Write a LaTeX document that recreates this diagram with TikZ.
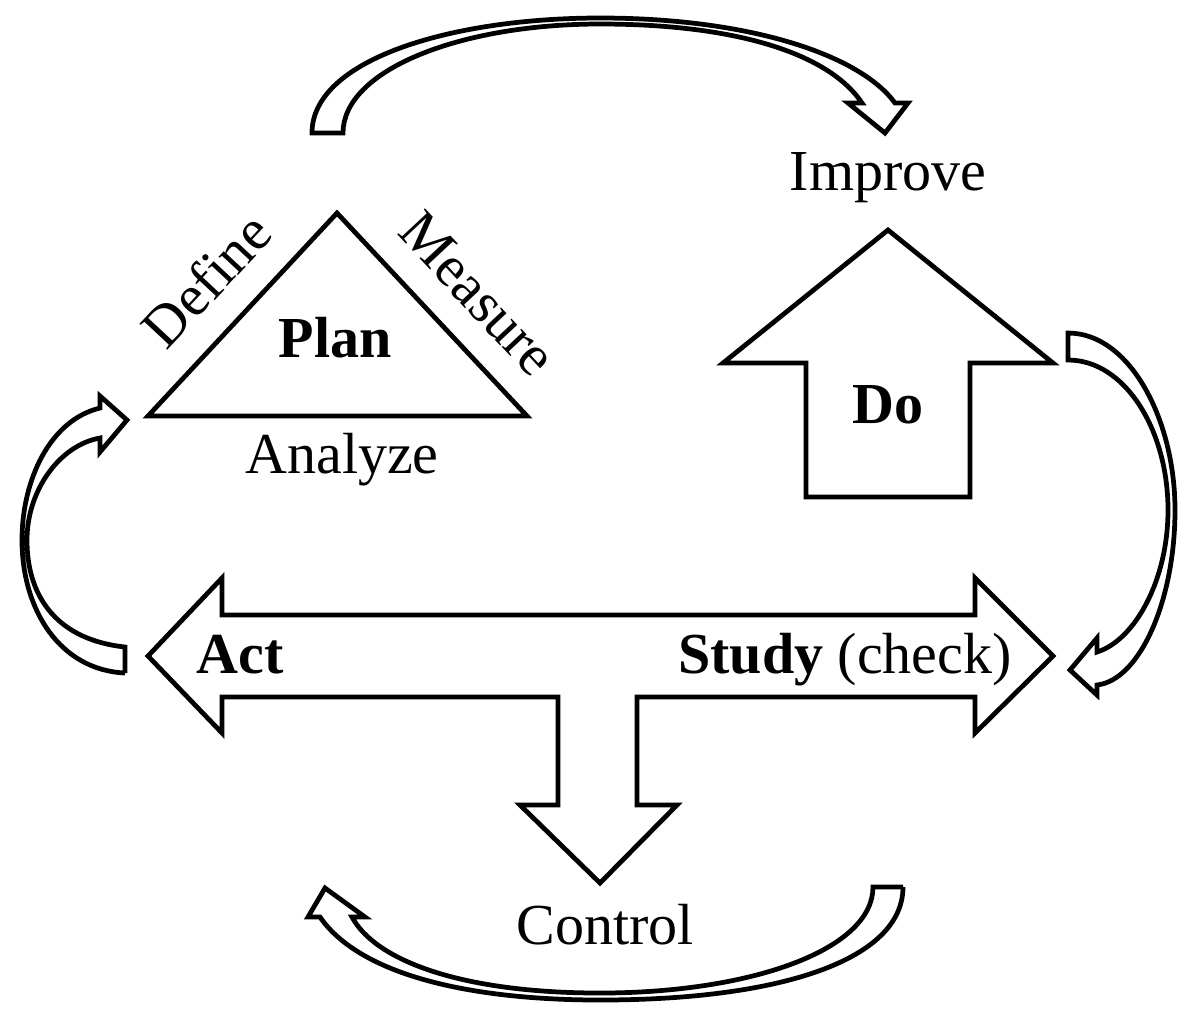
\documentclass[tikz,border=0pt]{standalone}
\usepackage{fontspec}
\setmainfont{Liberation Serif}
\usetikzlibrary{positioning}
\tikzstyle{outline}=[draw, line width=1.35pt, line join=miter, fill=white]
\tikzstyle{word}=[inner sep=0pt, font=\fontsize{16.5}{18}\selectfont]
\tikzstyle{keyword}=[word, font=\fontsize{16.5}{18}\selectfont\bfseries]

\begin{document}
\begin{tikzpicture}[x=0.01cm, y=-0.01cm]
	\useasboundingbox (0,0) rectangle (1200,1023);

	% plan triangle
	\draw[outline] (337,213) -- (527,416) -- (148,416) -- cycle;
	% do arrow
	\draw[outline] (888,230) -- (1053,363) -- (970,363) -- (970,497)
		-- (806,497) -- (806,363) -- (723,363) -- cycle;
	% act / study / control arrow
	\draw[outline] (148,656) -- (222,578) -- (222,615) -- (975,615) -- (975,578)
		-- (1053,656) -- (975,733) -- (975,697) -- (637,697) -- (637,805)
		-- (677,805) -- (600,883) -- (520,805) -- (558,805) -- (558,697)
		-- (222,697) -- (222,733) -- cycle;

	% curved arrows
	\draw[outline] (312,133) .. controls (312,60) and (450,18) .. (600,18)
		.. controls (750,18) and (860,55) .. (895,103)
		-- (908,103) -- (885,133) -- (848,103) -- (862,103)
		.. controls (830,55) and (740,24) .. (600,24)
		.. controls (460,24) and (343,70) .. (343,133) -- cycle;
	\draw[outline] (1068,333) .. controls (1130,333) and (1175,420) .. (1175,510)
		.. controls (1175,600) and (1140,680) .. (1097,685)
		-- (1097,695) -- (1070,670) -- (1097,638) -- (1097,652)
		.. controls (1135,640) and (1168,580) .. (1168,510)
		.. controls (1168,430) and (1125,360) .. (1068,360) -- cycle;
	\draw[outline] (903,887) -- (873,887)
		.. controls (873,950) and (750,993) .. (600,993)
		.. controls (460,993) and (375,960) .. (352,917)
		-- (365,917) -- (325,888) -- (308,917) -- (320,917)
		.. controls (360,975) and (470,1000) .. (600,1000)
		.. controls (780,1000) and (903,960) .. (903,887);
	\draw[outline] (125,673) -- (125,647)
		.. controls (60,640) and (27,600) .. (27,540)
		.. controls (27,490) and (60,445) .. (100,438)
		-- (100,452) -- (127,420) -- (100,396) -- (100,408)
		.. controls (50,420) and (22,480) .. (22,540)
		.. controls (22,610) and (60,670) .. (125,673);

	% texts
	\node[keyword] (plan) at (335,338) {Plan};
	\node[word, rotate=47] (define) at (206,280) {Define};
	\node[word, rotate=-47] (measure) at (478,294) {Measure};
	\node[word] (analyze) at (342,460) {Analyze};
	\node[word] (improve) at (888,178) {Improve};
	\node[keyword] (do) at (888,405) {Do};
	\node[keyword] (act) at (240,655) {Act};
	\node[word] (study) at (845,660) {\textbf{Study} (check)};
	\node[word] (control) at (605,925) {Control};
\end{tikzpicture}
\end{document}
